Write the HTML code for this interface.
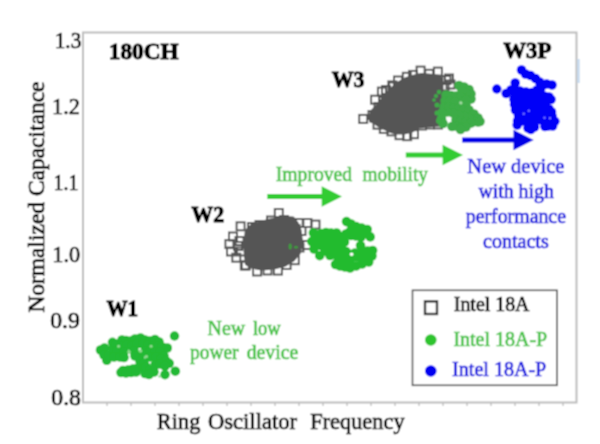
<!DOCTYPE html>
<html><head><meta charset="utf-8">
<style>
html,body{margin:0;padding:0;background:#fff;}
body{width:600px;height:444px;overflow:hidden;}
svg{display:block;}
text{font-family:"Liberation Serif",serif;}
</style></head><body>
<svg width="600" height="444" viewBox="0 0 600 444">
<defs><filter id="bl" x="0" y="0" width="600" height="444" filterUnits="userSpaceOnUse"><feConvolveMatrix order="3" kernelMatrix="1 2 1 2 4 2 1 2 1" divisor="16" edgeMode="duplicate"/></filter></defs>
<g filter="url(#bl)">
<rect x="0" y="0" width="600" height="444" fill="#fff"/>
<rect x="83" y="32.5" width="493.5" height="370" fill="none" stroke="#bdbdbd" stroke-width="2"/>
<rect x="577.3" y="59" width="2.4" height="24" fill="#c6daf0"/>
<line x1="107" y1="403" x2="107" y2="406" stroke="#aaa" stroke-width="1"/>
<line x1="131" y1="403" x2="131" y2="406" stroke="#aaa" stroke-width="1"/>
<line x1="155" y1="403" x2="155" y2="406" stroke="#aaa" stroke-width="1"/>
<line x1="179" y1="403" x2="179" y2="406" stroke="#aaa" stroke-width="1"/>
<line x1="203" y1="403" x2="203" y2="406" stroke="#aaa" stroke-width="1"/>
<line x1="227" y1="403" x2="227" y2="406" stroke="#aaa" stroke-width="1"/>
<line x1="251" y1="403" x2="251" y2="406" stroke="#aaa" stroke-width="1"/>
<line x1="275" y1="403" x2="275" y2="406" stroke="#aaa" stroke-width="1"/>
<line x1="299" y1="403" x2="299" y2="406" stroke="#aaa" stroke-width="1"/>
<line x1="323" y1="403" x2="323" y2="406" stroke="#aaa" stroke-width="1"/>
<line x1="347" y1="403" x2="347" y2="406" stroke="#aaa" stroke-width="1"/>
<line x1="371" y1="403" x2="371" y2="406" stroke="#aaa" stroke-width="1"/>
<line x1="395" y1="403" x2="395" y2="406" stroke="#aaa" stroke-width="1"/>
<line x1="419" y1="403" x2="419" y2="406" stroke="#aaa" stroke-width="1"/>
<line x1="443" y1="403" x2="443" y2="406" stroke="#aaa" stroke-width="1"/>
<line x1="467" y1="403" x2="467" y2="406" stroke="#aaa" stroke-width="1"/>
<line x1="491" y1="403" x2="491" y2="406" stroke="#aaa" stroke-width="1"/>
<line x1="515" y1="403" x2="515" y2="406" stroke="#aaa" stroke-width="1"/>
<line x1="539" y1="403" x2="539" y2="406" stroke="#aaa" stroke-width="1"/>
<line x1="563" y1="403" x2="563" y2="406" stroke="#aaa" stroke-width="1"/>
<text x="54.80" y="48.10" font-size="24" fill="#000" stroke="#000" stroke-width="0.7" font-weight="normal" textLength="26.44" lengthAdjust="spacingAndGlyphs" >1.3</text>
<text x="52.11" y="113.60" font-size="24" fill="#000" stroke="#000" stroke-width="0.7" font-weight="normal" textLength="27.82" lengthAdjust="spacingAndGlyphs" >1.2</text>
<text x="53.51" y="190.30" font-size="24" fill="#000" stroke="#000" stroke-width="0.7" font-weight="normal" textLength="24.89" lengthAdjust="spacingAndGlyphs" >1.1</text>
<text x="52.31" y="262.30" font-size="24" fill="#000" stroke="#000" stroke-width="0.7" font-weight="normal" textLength="27.78" lengthAdjust="spacingAndGlyphs" >1.0</text>
<text x="50.25" y="327.60" font-size="24" fill="#000" stroke="#000" stroke-width="0.7" font-weight="normal" textLength="29.59" lengthAdjust="spacingAndGlyphs" >0.9</text>
<text x="51.35" y="405.00" font-size="24" fill="#000" stroke="#000" stroke-width="0.7" font-weight="normal" textLength="29.59" lengthAdjust="spacingAndGlyphs" >0.8</text>
<text x="156.83" y="428.70" font-size="23.5" fill="#000" stroke="#000" stroke-width="0.7" font-weight="normal" textLength="43.52" lengthAdjust="spacingAndGlyphs" >Ring</text>
<text x="208.00" y="428.70" font-size="23.5" fill="#000" stroke="#000" stroke-width="0.7" font-weight="normal" textLength="88.99" lengthAdjust="spacingAndGlyphs" >Oscillator</text>
<text x="310.13" y="428.70" font-size="23.5" fill="#000" stroke="#000" stroke-width="0.7" font-weight="normal" textLength="94.50" lengthAdjust="spacingAndGlyphs" >Frequency</text>
<text transform="translate(44.3,312.40) rotate(-90)" x="-0.20" y="0" font-size="24" fill="#000" stroke="#000" stroke-width="0.7" textLength="231.04" lengthAdjust="spacingAndGlyphs">Normalized Capacitance</text>
<text x="108.84" y="58.80" font-size="23.3" fill="#000" stroke="#000" stroke-width="1.0" font-weight="bold" textLength="69.83" lengthAdjust="spacingAndGlyphs" >180CH</text>
<text x="331.67" y="87.30" font-size="23" fill="#000" stroke="#000" stroke-width="1.0" font-weight="bold" textLength="32.79" lengthAdjust="spacingAndGlyphs" >W3</text>
<text x="503.26" y="57.50" font-size="22.8" fill="#000" stroke="#000" stroke-width="1.0" font-weight="bold" textLength="48.13" lengthAdjust="spacingAndGlyphs" >W3P</text>
<text x="191.37" y="221.60" font-size="23" fill="#000" stroke="#000" stroke-width="1.0" font-weight="bold" textLength="32.80" lengthAdjust="spacingAndGlyphs" >W2</text>
<text x="106.38" y="316.00" font-size="23" fill="#000" stroke="#000" stroke-width="1.0" font-weight="bold" textLength="31.67" lengthAdjust="spacingAndGlyphs" >W1</text>
<text x="275.81" y="180.60" font-size="20.3" fill="#4cc44c" stroke="#4cc44c" stroke-width="0.7" font-weight="normal" textLength="76.34" lengthAdjust="spacingAndGlyphs" >Improved</text>
<text x="362.61" y="180.60" font-size="20.3" fill="#4cc44c" stroke="#4cc44c" stroke-width="0.7" font-weight="normal" textLength="65.26" lengthAdjust="spacingAndGlyphs" >mobility</text>
<text x="467.39" y="172.80" font-size="20.3" fill="#1f1fe0" stroke="#1f1fe0" stroke-width="0.7" font-weight="normal" textLength="97.08" lengthAdjust="spacingAndGlyphs" >New device</text>
<text x="478.40" y="197.50" font-size="20.3" fill="#1f1fe0" stroke="#1f1fe0" stroke-width="0.7" font-weight="normal" textLength="75.41" lengthAdjust="spacingAndGlyphs" >with high</text>
<text x="465.80" y="223.10" font-size="20.3" fill="#1f1fe0" stroke="#1f1fe0" stroke-width="0.7" font-weight="normal" textLength="100.14" lengthAdjust="spacingAndGlyphs" >performance</text>
<text x="483.10" y="248.20" font-size="20.3" fill="#1f1fe0" stroke="#1f1fe0" stroke-width="0.7" font-weight="normal" textLength="65.63" lengthAdjust="spacingAndGlyphs" >contacts</text>
<text x="207.60" y="335.40" font-size="20.3" fill="#4cc44c" stroke="#4cc44c" stroke-width="0.7" font-weight="normal" textLength="37.56" lengthAdjust="spacingAndGlyphs" >New</text>
<text x="252.93" y="335.40" font-size="20.3" fill="#4cc44c" stroke="#4cc44c" stroke-width="0.7" font-weight="normal" textLength="27.87" lengthAdjust="spacingAndGlyphs" >low</text>
<text x="190.01" y="358.60" font-size="20.3" fill="#4cc44c" stroke="#4cc44c" stroke-width="0.7" font-weight="normal" textLength="48.47" lengthAdjust="spacingAndGlyphs" >power</text>
<text x="246.71" y="358.60" font-size="20.3" fill="#4cc44c" stroke="#4cc44c" stroke-width="0.7" font-weight="normal" textLength="51.57" lengthAdjust="spacingAndGlyphs" >device</text>
<path d="M246.3,230.7 L251.5,225.5 L260.1,222.9 L268.8,220.3 L277.5,219 L285,217.5 L293,218 L297,223 L300,230 L301.7,242.9 L299.1,253.3 L293,260.2 L284.4,265.4 L274,268 L261.9,268.9 L251.5,267.1 L246.3,263.7 L244.5,246.3 Z" fill="#555" stroke="#555" stroke-width="3" stroke-linejoin="round"/>
<rect x="236.60" y="222.30" width="8" height="8" fill="none" stroke="#555" stroke-width="2"/>
<rect x="274.80" y="209.00" width="8" height="8" fill="none" stroke="#555" stroke-width="2"/>
<rect x="294.70" y="219.00" width="8" height="8" fill="none" stroke="#555" stroke-width="2"/>
<rect x="303.40" y="219.00" width="8" height="8" fill="none" stroke="#555" stroke-width="2"/>
<rect x="311.50" y="220.60" width="8" height="8" fill="none" stroke="#555" stroke-width="2"/>
<rect x="303.00" y="241.00" width="8" height="8" fill="none" stroke="#555" stroke-width="2"/>
<rect x="295.50" y="243.50" width="8" height="8" fill="none" stroke="#555" stroke-width="2"/>
<rect x="297.50" y="227.00" width="8" height="8" fill="none" stroke="#555" stroke-width="2"/>
<rect x="273.90" y="266.60" width="8" height="8" fill="none" stroke="#555" stroke-width="2"/>
<rect x="253.10" y="267.50" width="8" height="8" fill="none" stroke="#555" stroke-width="2"/>
<rect x="241.80" y="261.40" width="8" height="8" fill="none" stroke="#555" stroke-width="2"/>
<rect x="282.60" y="261.00" width="8" height="8" fill="none" stroke="#555" stroke-width="2"/>
<rect x="290.80" y="256.20" width="8" height="8" fill="none" stroke="#555" stroke-width="2"/>
<rect x="263.50" y="266.50" width="8" height="8" fill="none" stroke="#555" stroke-width="2"/>
<rect x="229.00" y="232.50" width="8" height="8" fill="none" stroke="#555" stroke-width="2"/>
<rect x="225.40" y="240.10" width="8" height="8" fill="none" stroke="#555" stroke-width="2"/>
<rect x="227.00" y="247.50" width="8" height="8" fill="none" stroke="#555" stroke-width="2"/>
<rect x="232.30" y="253.70" width="8" height="8" fill="none" stroke="#555" stroke-width="2"/>
<rect x="240.80" y="261.50" width="8" height="8" fill="none" stroke="#555" stroke-width="2"/>
<rect x="235.50" y="237.00" width="8" height="8" fill="none" stroke="#555" stroke-width="2"/>
<rect x="237.00" y="247.50" width="8" height="8" fill="none" stroke="#555" stroke-width="2"/>
<rect x="234.00" y="242.00" width="8" height="8" fill="none" stroke="#555" stroke-width="2"/>
<rect x="248.00" y="223.00" width="8" height="8" fill="none" stroke="#555" stroke-width="2"/>
<rect x="255.50" y="221.00" width="8" height="8" fill="none" stroke="#555" stroke-width="2"/>
<rect x="267.00" y="216.50" width="8" height="8" fill="none" stroke="#555" stroke-width="2"/>
<rect x="280.00" y="216.00" width="8" height="8" fill="none" stroke="#555" stroke-width="2"/>
<rect x="286.50" y="219.50" width="8" height="8" fill="none" stroke="#555" stroke-width="2"/>
<rect x="291.50" y="225.00" width="8" height="8" fill="none" stroke="#555" stroke-width="2"/>
<ellipse cx="290.2" cy="246.5" rx="1.6" ry="3" fill="#3c9c3c"/><ellipse cx="296" cy="247.2" rx="2" ry="1.2" fill="#3c9c3c"/>
<path d="M370.5,121 L370.5,115 L372,111 L378,105 L383,98 L388.5,91.5 L396,84.5 L404,79.5 L412.5,76.5 L422,74.5 L433,75.5 L440,76.5 L442,84 L442,92 L442,100 L440,108 L438,120 L440,125 L431.6,125.5 L418.2,127 L412,131 L404,133 L396,133 L389.5,131 L380,126.5 L373.5,122 Z" fill="#555" stroke="#555" stroke-width="3" stroke-linejoin="round"/>
<rect x="359.20" y="114.90" width="8" height="8" fill="none" stroke="#555" stroke-width="2"/>
<rect x="371.10" y="95.70" width="8" height="8" fill="none" stroke="#555" stroke-width="2"/>
<rect x="377.90" y="87.60" width="8" height="8" fill="none" stroke="#555" stroke-width="2"/>
<rect x="388.30" y="81.40" width="8" height="8" fill="none" stroke="#555" stroke-width="2"/>
<rect x="402.80" y="72.80" width="8" height="8" fill="none" stroke="#555" stroke-width="2"/>
<rect x="409.00" y="70.90" width="8" height="8" fill="none" stroke="#555" stroke-width="2"/>
<rect x="416.60" y="66.60" width="8" height="8" fill="none" stroke="#555" stroke-width="2"/>
<rect x="425.20" y="69.80" width="8" height="8" fill="none" stroke="#555" stroke-width="2"/>
<rect x="433.90" y="67.60" width="8" height="8" fill="none" stroke="#555" stroke-width="2"/>
<rect x="442.50" y="76.00" width="8" height="8" fill="none" stroke="#555" stroke-width="2"/>
<rect x="446.50" y="80.50" width="8" height="8" fill="none" stroke="#555" stroke-width="2"/>
<rect x="440.50" y="82.50" width="8" height="8" fill="none" stroke="#555" stroke-width="2"/>
<rect x="445.00" y="74.50" width="8" height="8" fill="none" stroke="#555" stroke-width="2"/>
<rect x="395.50" y="131.20" width="8" height="8" fill="none" stroke="#555" stroke-width="2"/>
<rect x="403.20" y="132.20" width="8" height="8" fill="none" stroke="#555" stroke-width="2"/>
<rect x="410.00" y="130.20" width="8" height="8" fill="none" stroke="#555" stroke-width="2"/>
<rect x="373.50" y="120.70" width="8" height="8" fill="none" stroke="#555" stroke-width="2"/>
<rect x="379.80" y="124.90" width="8" height="8" fill="none" stroke="#555" stroke-width="2"/>
<rect x="387.40" y="127.40" width="8" height="8" fill="none" stroke="#555" stroke-width="2"/>
<rect x="368.50" y="111.00" width="8" height="8" fill="none" stroke="#555" stroke-width="2"/>
<rect x="394.00" y="76.50" width="8" height="8" fill="none" stroke="#555" stroke-width="2"/>
<rect x="418.00" y="121.50" width="8" height="8" fill="none" stroke="#555" stroke-width="2"/>
<rect x="426.00" y="120.50" width="8" height="8" fill="none" stroke="#555" stroke-width="2"/>
<rect x="434.00" y="120.50" width="8" height="8" fill="none" stroke="#555" stroke-width="2"/>
<rect x="382.00" y="86.00" width="8" height="8" fill="none" stroke="#555" stroke-width="2"/>
<rect x="389.00" y="82.50" width="8" height="8" fill="none" stroke="#555" stroke-width="2"/>
<rect x="379.00" y="97.00" width="8" height="8" fill="none" stroke="#555" stroke-width="2"/>
<rect x="374.50" y="103.00" width="8" height="8" fill="none" stroke="#555" stroke-width="2"/>
<circle cx="100.5" cy="350" r="4.8" fill="#22b934"/>
<circle cx="104.5" cy="348" r="4.8" fill="#22b934"/>
<circle cx="106.8" cy="360.3" r="4.8" fill="#22b934"/>
<circle cx="104" cy="355" r="4.8" fill="#22b934"/>
<circle cx="109" cy="355" r="4.8" fill="#22b934"/>
<circle cx="112.5" cy="342.3" r="4.8" fill="#22b934"/>
<circle cx="113" cy="349" r="4.8" fill="#22b934"/>
<circle cx="116" cy="344" r="4.8" fill="#22b934"/>
<circle cx="117" cy="351" r="4.8" fill="#22b934"/>
<circle cx="114" cy="357" r="4.8" fill="#22b934"/>
<circle cx="120" cy="357" r="4.8" fill="#22b934"/>
<circle cx="122" cy="340" r="4.8" fill="#22b934"/>
<circle cx="126" cy="340.5" r="4.8" fill="#22b934"/>
<circle cx="131" cy="341" r="4.8" fill="#22b934"/>
<circle cx="135" cy="339" r="4.8" fill="#22b934"/>
<circle cx="140.5" cy="338" r="4.8" fill="#22b934"/>
<circle cx="145" cy="340" r="4.8" fill="#22b934"/>
<circle cx="150" cy="341" r="4.8" fill="#22b934"/>
<circle cx="155" cy="339.5" r="4.8" fill="#22b934"/>
<circle cx="159" cy="342" r="4.8" fill="#22b934"/>
<circle cx="122" cy="346" r="4.8" fill="#22b934"/>
<circle cx="127" cy="345" r="4.8" fill="#22b934"/>
<circle cx="132" cy="346" r="4.8" fill="#22b934"/>
<circle cx="137" cy="344" r="4.8" fill="#22b934"/>
<circle cx="143" cy="344" r="4.8" fill="#22b934"/>
<circle cx="148" cy="345" r="4.8" fill="#22b934"/>
<circle cx="153" cy="346" r="4.8" fill="#22b934"/>
<circle cx="158" cy="346" r="4.8" fill="#22b934"/>
<circle cx="162" cy="347" r="4.8" fill="#22b934"/>
<circle cx="167.3" cy="348" r="4.8" fill="#22b934"/>
<circle cx="124" cy="352" r="4.8" fill="#22b934"/>
<circle cx="134" cy="351" r="4.8" fill="#22b934"/>
<circle cx="140" cy="356" r="4.8" fill="#22b934"/>
<circle cx="145" cy="351" r="4.8" fill="#22b934"/>
<circle cx="150" cy="352" r="4.8" fill="#22b934"/>
<circle cx="155" cy="352" r="4.8" fill="#22b934"/>
<circle cx="160" cy="352" r="4.8" fill="#22b934"/>
<circle cx="164" cy="356" r="4.8" fill="#22b934"/>
<circle cx="124" cy="357.5" r="4.8" fill="#22b934"/>
<circle cx="135" cy="356" r="4.8" fill="#22b934"/>
<circle cx="150" cy="357" r="4.8" fill="#22b934"/>
<circle cx="156" cy="357" r="4.8" fill="#22b934"/>
<circle cx="161" cy="359" r="4.8" fill="#22b934"/>
<circle cx="166" cy="361" r="4.8" fill="#22b934"/>
<circle cx="169.2" cy="363.3" r="4.8" fill="#22b934"/>
<circle cx="123" cy="370.5" r="4.8" fill="#22b934"/>
<circle cx="128" cy="370" r="4.8" fill="#22b934"/>
<circle cx="133" cy="369" r="4.8" fill="#22b934"/>
<circle cx="138" cy="368" r="4.8" fill="#22b934"/>
<circle cx="141" cy="365.5" r="4.8" fill="#22b934"/>
<circle cx="121" cy="372.5" r="4.8" fill="#22b934"/>
<circle cx="126" cy="373" r="4.8" fill="#22b934"/>
<circle cx="131" cy="372.5" r="4.8" fill="#22b934"/>
<circle cx="136" cy="372" r="4.8" fill="#22b934"/>
<circle cx="140" cy="361.5" r="4.8" fill="#22b934"/>
<circle cx="144" cy="363" r="4.8" fill="#22b934"/>
<circle cx="145" cy="373.5" r="4.8" fill="#22b934"/>
<circle cx="146" cy="367" r="4.8" fill="#22b934"/>
<circle cx="150" cy="370" r="4.8" fill="#22b934"/>
<circle cx="154" cy="372" r="4.8" fill="#22b934"/>
<circle cx="155" cy="365" r="4.8" fill="#22b934"/>
<circle cx="160" cy="364" r="4.8" fill="#22b934"/>
<circle cx="165" cy="366" r="4.8" fill="#22b934"/>
<circle cx="165" cy="374.6" r="4.8" fill="#22b934"/>
<circle cx="175.3" cy="371.2" r="4.8" fill="#22b934"/>
<circle cx="149" cy="374.5" r="4.8" fill="#22b934"/>
<circle cx="174.5" cy="336" r="4.75" fill="#22b934"/>
<circle cx="118.6" cy="346.2" r="1.5" fill="#90d890"/>
<circle cx="129" cy="352" r="1.8" fill="#90d890"/>
<circle cx="140.5" cy="351" r="1.8" fill="#90d890"/>
<circle cx="146.5" cy="356.5" r="1.5" fill="#90d890"/>
<circle cx="151.1" cy="346.3" r="1.5" fill="#90d890"/>
<circle cx="159.5" cy="376.5" r="1.2" fill="#90d890"/>
<circle cx="346.5" cy="221.6" r="4.8" fill="#22bb2e"/>
<circle cx="351" cy="224" r="4.8" fill="#22bb2e"/>
<circle cx="344.5" cy="242" r="4.8" fill="#22bb2e"/>
<circle cx="351" cy="235.5" r="4.8" fill="#22bb2e"/>
<circle cx="356" cy="236" r="4.8" fill="#22bb2e"/>
<circle cx="361" cy="237" r="4.8" fill="#22bb2e"/>
<circle cx="356" cy="226.5" r="4.8" fill="#22bb2e"/>
<circle cx="361.5" cy="228" r="4.8" fill="#22bb2e"/>
<circle cx="367.2" cy="229.5" r="4.8" fill="#22bb2e"/>
<circle cx="370.2" cy="236.9" r="4.8" fill="#22bb2e"/>
<circle cx="366" cy="233.5" r="4.8" fill="#22bb2e"/>
<circle cx="360.5" cy="234.5" r="4.8" fill="#22bb2e"/>
<circle cx="355" cy="233" r="4.8" fill="#22bb2e"/>
<circle cx="350" cy="231.5" r="4.8" fill="#22bb2e"/>
<circle cx="346" cy="234" r="4.8" fill="#22bb2e"/>
<circle cx="313.4" cy="232.9" r="4.8" fill="#22bb2e"/>
<circle cx="311.8" cy="241.5" r="4.8" fill="#22bb2e"/>
<circle cx="314" cy="249" r="4.8" fill="#22bb2e"/>
<circle cx="319.7" cy="255.7" r="4.8" fill="#22bb2e"/>
<circle cx="318" cy="237" r="4.8" fill="#22bb2e"/>
<circle cx="321" cy="233.5" r="4.8" fill="#22bb2e"/>
<circle cx="326" cy="232.5" r="4.8" fill="#22bb2e"/>
<circle cx="331" cy="233" r="4.8" fill="#22bb2e"/>
<circle cx="336.5" cy="233" r="4.8" fill="#22bb2e"/>
<circle cx="341" cy="236.5" r="4.8" fill="#22bb2e"/>
<circle cx="318" cy="243" r="4.8" fill="#22bb2e"/>
<circle cx="324" cy="238" r="4.8" fill="#22bb2e"/>
<circle cx="330" cy="237" r="4.8" fill="#22bb2e"/>
<circle cx="336" cy="238" r="4.8" fill="#22bb2e"/>
<circle cx="340.5" cy="240.5" r="4.8" fill="#22bb2e"/>
<circle cx="322" cy="246" r="4.8" fill="#22bb2e"/>
<circle cx="328" cy="244" r="4.8" fill="#22bb2e"/>
<circle cx="334" cy="244" r="4.8" fill="#22bb2e"/>
<circle cx="339" cy="246" r="4.8" fill="#22bb2e"/>
<circle cx="325" cy="251" r="4.8" fill="#22bb2e"/>
<circle cx="331" cy="250" r="4.8" fill="#22bb2e"/>
<circle cx="337" cy="251" r="4.8" fill="#22bb2e"/>
<circle cx="341" cy="252" r="4.8" fill="#22bb2e"/>
<circle cx="330" cy="255.5" r="4.8" fill="#22bb2e"/>
<circle cx="335.5" cy="264.5" r="4.8" fill="#22bb2e"/>
<circle cx="340" cy="266" r="4.8" fill="#22bb2e"/>
<circle cx="345" cy="267" r="4.8" fill="#22bb2e"/>
<circle cx="350" cy="268" r="4.8" fill="#22bb2e"/>
<circle cx="356" cy="266" r="4.8" fill="#22bb2e"/>
<circle cx="362" cy="264" r="4.8" fill="#22bb2e"/>
<circle cx="368.7" cy="262" r="4.8" fill="#22bb2e"/>
<circle cx="372" cy="256" r="4.8" fill="#22bb2e"/>
<circle cx="372.6" cy="250.5" r="4.8" fill="#22bb2e"/>
<circle cx="367.5" cy="251" r="4.8" fill="#22bb2e"/>
<circle cx="360.5" cy="245.5" r="4.8" fill="#22bb2e"/>
<circle cx="363" cy="251" r="4.8" fill="#22bb2e"/>
<circle cx="357" cy="257" r="4.8" fill="#22bb2e"/>
<circle cx="344" cy="259" r="4.8" fill="#22bb2e"/>
<circle cx="350" cy="261" r="4.8" fill="#22bb2e"/>
<circle cx="362" cy="258" r="4.8" fill="#22bb2e"/>
<circle cx="368" cy="257" r="4.8" fill="#22bb2e"/>
<circle cx="338" cy="258" r="4.8" fill="#22bb2e"/>
<circle cx="344" cy="254" r="4.8" fill="#22bb2e"/>
<circle cx="348" cy="257" r="4.8" fill="#22bb2e"/>
<circle cx="341.5" cy="245" r="4.8" fill="#22bb2e"/>
<circle cx="350" cy="254.5" r="4.8" fill="#22bb2e"/>
<circle cx="346" cy="251.5" r="4.8" fill="#22bb2e"/>
<circle cx="355" cy="253" r="4.8" fill="#22bb2e"/>
<circle cx="351.6" cy="254.2" r="1.8" fill="#fff"/>
<circle cx="459" cy="85.5" r="4.8" fill="#3cac46"/>
<circle cx="464" cy="87" r="4.8" fill="#3cac46"/>
<circle cx="469" cy="89.5" r="4.8" fill="#3cac46"/>
<circle cx="471" cy="94" r="4.8" fill="#3cac46"/>
<circle cx="471" cy="99" r="4.8" fill="#3cac46"/>
<circle cx="466" cy="93" r="4.8" fill="#3cac46"/>
<circle cx="462" cy="91" r="4.8" fill="#3cac46"/>
<circle cx="446" cy="95" r="4.8" fill="#3cac46"/>
<circle cx="451" cy="95.5" r="4.8" fill="#3cac46"/>
<circle cx="456" cy="96" r="4.8" fill="#3cac46"/>
<circle cx="461" cy="97" r="4.8" fill="#3cac46"/>
<circle cx="466" cy="100" r="4.8" fill="#3cac46"/>
<circle cx="445" cy="101" r="4.8" fill="#3cac46"/>
<circle cx="450" cy="101" r="4.8" fill="#3cac46"/>
<circle cx="455" cy="102" r="4.8" fill="#3cac46"/>
<circle cx="466" cy="105" r="4.8" fill="#3cac46"/>
<circle cx="444" cy="107" r="4.8" fill="#3cac46"/>
<circle cx="449" cy="107" r="4.8" fill="#3cac46"/>
<circle cx="454" cy="108" r="4.8" fill="#3cac46"/>
<circle cx="459" cy="108" r="4.8" fill="#3cac46"/>
<circle cx="464" cy="110" r="4.8" fill="#3cac46"/>
<circle cx="469" cy="110" r="4.8" fill="#3cac46"/>
<circle cx="474" cy="114" r="4.8" fill="#3cac46"/>
<circle cx="478" cy="118" r="4.8" fill="#3cac46"/>
<circle cx="478" cy="122" r="4.8" fill="#3cac46"/>
<circle cx="480" cy="121.5" r="4.8" fill="#3cac46"/>
<circle cx="474" cy="121.5" r="4.8" fill="#3cac46"/>
<circle cx="469" cy="118" r="4.8" fill="#3cac46"/>
<circle cx="464" cy="116" r="4.8" fill="#3cac46"/>
<circle cx="459" cy="115" r="4.8" fill="#3cac46"/>
<circle cx="453" cy="113" r="4.8" fill="#3cac46"/>
<circle cx="447" cy="112" r="4.8" fill="#3cac46"/>
<circle cx="442" cy="113" r="4.8" fill="#3cac46"/>
<circle cx="441.5" cy="119" r="4.8" fill="#3cac46"/>
<circle cx="443" cy="123.5" r="4.8" fill="#3cac46"/>
<circle cx="456" cy="120" r="4.8" fill="#3cac46"/>
<circle cx="461" cy="121" r="4.8" fill="#3cac46"/>
<circle cx="466" cy="122" r="4.8" fill="#3cac46"/>
<circle cx="471" cy="123" r="4.8" fill="#3cac46"/>
<circle cx="456" cy="126" r="4.8" fill="#3cac46"/>
<circle cx="461" cy="128" r="4.8" fill="#3cac46"/>
<circle cx="466" cy="127" r="4.8" fill="#3cac46"/>
<circle cx="460.5" cy="129.5" r="4.8" fill="#3cac46"/>
<circle cx="452" cy="126.5" r="4.8" fill="#3cac46"/>
<circle cx="436" cy="96" r="2" fill="#3cac46"/>
<circle cx="437" cy="105" r="2.5" fill="#3cac46"/>
<circle cx="437" cy="113" r="2.5" fill="#3cac46"/>
<circle cx="439" cy="121" r="3" fill="#3cac46"/>
<circle cx="434" cy="100" r="1.8" fill="#3cac46"/>
<circle cx="439" cy="92" r="2.2" fill="#3cac46"/>
<circle cx="461" cy="103" r="1.5" fill="#a0d8a0"/>
<circle cx="514" cy="90" r="4.8" fill="#0000f8"/>
<circle cx="521.5" cy="70" r="4.8" fill="#0000f8"/>
<circle cx="525.5" cy="74" r="4.8" fill="#0000f8"/>
<circle cx="530.5" cy="75.5" r="4.8" fill="#0000f8"/>
<circle cx="535.5" cy="78.5" r="4.8" fill="#0000f8"/>
<circle cx="539.5" cy="82" r="4.8" fill="#0000f8"/>
<circle cx="546.6" cy="84" r="4.8" fill="#0000f8"/>
<circle cx="552" cy="85" r="4.8" fill="#0000f8"/>
<circle cx="506.2" cy="93.5" r="4.8" fill="#0000f8"/>
<circle cx="511" cy="90" r="4.8" fill="#0000f8"/>
<circle cx="515.2" cy="83" r="4.8" fill="#0000f8"/>
<circle cx="520" cy="91" r="4.8" fill="#0000f8"/>
<circle cx="526" cy="92" r="4.8" fill="#0000f8"/>
<circle cx="532" cy="92.5" r="4.8" fill="#0000f8"/>
<circle cx="537" cy="90" r="4.8" fill="#0000f8"/>
<circle cx="541" cy="88" r="4.8" fill="#0000f8"/>
<circle cx="514" cy="99.5" r="4.8" fill="#0000f8"/>
<circle cx="515" cy="96" r="4.8" fill="#0000f8"/>
<circle cx="521" cy="97" r="4.8" fill="#0000f8"/>
<circle cx="527" cy="98" r="4.8" fill="#0000f8"/>
<circle cx="533" cy="98" r="4.8" fill="#0000f8"/>
<circle cx="539" cy="95" r="4.8" fill="#0000f8"/>
<circle cx="544" cy="96" r="4.8" fill="#0000f8"/>
<circle cx="549" cy="97" r="4.8" fill="#0000f8"/>
<circle cx="551" cy="99.5" r="4.8" fill="#0000f8"/>
<circle cx="514.5" cy="104.5" r="4.8" fill="#0000f8"/>
<circle cx="517" cy="103" r="4.8" fill="#0000f8"/>
<circle cx="523" cy="104" r="4.8" fill="#0000f8"/>
<circle cx="529" cy="104" r="4.8" fill="#0000f8"/>
<circle cx="535" cy="104" r="4.8" fill="#0000f8"/>
<circle cx="541" cy="102" r="4.8" fill="#0000f8"/>
<circle cx="546" cy="102" r="4.8" fill="#0000f8"/>
<circle cx="515.5" cy="110" r="4.8" fill="#0000f8"/>
<circle cx="519" cy="109" r="4.8" fill="#0000f8"/>
<circle cx="525" cy="108" r="4.8" fill="#0000f8"/>
<circle cx="531" cy="109" r="4.8" fill="#0000f8"/>
<circle cx="537" cy="109" r="4.8" fill="#0000f8"/>
<circle cx="543" cy="108" r="4.8" fill="#0000f8"/>
<circle cx="549" cy="109" r="4.8" fill="#0000f8"/>
<circle cx="551.5" cy="112" r="4.8" fill="#0000f8"/>
<circle cx="518.5" cy="115.5" r="4.8" fill="#0000f8"/>
<circle cx="523" cy="115" r="4.8" fill="#0000f8"/>
<circle cx="529" cy="116" r="4.8" fill="#0000f8"/>
<circle cx="535" cy="115" r="4.8" fill="#0000f8"/>
<circle cx="541" cy="114" r="4.8" fill="#0000f8"/>
<circle cx="547" cy="114" r="4.8" fill="#0000f8"/>
<circle cx="552" cy="116" r="4.8" fill="#0000f8"/>
<circle cx="517.5" cy="121" r="4.8" fill="#0000f8"/>
<circle cx="523" cy="121" r="4.8" fill="#0000f8"/>
<circle cx="529" cy="122" r="4.8" fill="#0000f8"/>
<circle cx="535" cy="121" r="4.8" fill="#0000f8"/>
<circle cx="541" cy="120" r="4.8" fill="#0000f8"/>
<circle cx="547" cy="121" r="4.8" fill="#0000f8"/>
<circle cx="553" cy="121" r="4.8" fill="#0000f8"/>
<circle cx="554.8" cy="121.3" r="4.8" fill="#0000f8"/>
<circle cx="517.2" cy="125" r="4.8" fill="#0000f8"/>
<circle cx="530.8" cy="129.5" r="4.8" fill="#0000f8"/>
<circle cx="528" cy="128" r="4.8" fill="#0000f8"/>
<circle cx="534.5" cy="127" r="4.8" fill="#0000f8"/>
<circle cx="545" cy="126.5" r="4.8" fill="#0000f8"/>
<circle cx="552.6" cy="126" r="4.8" fill="#0000f8"/>
<circle cx="548" cy="126" r="4.8" fill="#0000f8"/>
<circle cx="496.8" cy="89" r="4.75" fill="#0000f8"/>
<circle cx="528.8" cy="110.7" r="1.2" fill="#7070ff"/>
<circle cx="523.7" cy="113.7" r="1.2" fill="#7070ff"/>
<circle cx="544.5" cy="117.8" r="1.2" fill="#7070ff"/>
<circle cx="550" cy="118.3" r="1.2" fill="#7070ff"/>
<rect x="267.3" y="194.0" width="55.39999999999998" height="5" fill="#32cc32"/>
<polygon points="321.7,186.25 342,196.5 321.7,206.75" fill="#32cc32"/>
<rect x="405.8" y="152.5" width="37.80000000000001" height="5" fill="#32cc32"/>
<polygon points="442.6,144.75 463,155 442.6,165.25" fill="#32cc32"/>
<rect x="462.2" y="137.5" width="52.30000000000001" height="5" fill="#0000e6"/>
<polygon points="513.5,129.75 533.7,140 513.5,150.25" fill="#0000e6"/>
<rect x="412.5" y="290.3" width="144.5" height="95" fill="#fff" stroke="#555" stroke-width="1.6"/>
<rect x="425" y="301.4" width="12" height="12.6" fill="none" stroke="#333" stroke-width="2.4"/>
<circle cx="430.8" cy="340" r="5.8" fill="#2ec42e"/>
<circle cx="430.8" cy="371" r="5.8" fill="#0000f0"/>
<text x="453.80" y="311.00" font-size="20.3" fill="#000" stroke="#000" stroke-width="0.7" font-weight="normal" textLength="75.69" lengthAdjust="spacingAndGlyphs" >Intel 18A</text>
<text x="453.40" y="345.60" font-size="20.3" fill="#4cc44c" stroke="#4cc44c" stroke-width="0.7" font-weight="normal" textLength="93.78" lengthAdjust="spacingAndGlyphs" >Intel 18A-P</text>
<text x="452.10" y="376.20" font-size="20.3" fill="#1f1fe0" stroke="#1f1fe0" stroke-width="0.7" font-weight="normal" textLength="94.18" lengthAdjust="spacingAndGlyphs" >Intel 18A-P</text>
</g>
</svg>
</body></html>
